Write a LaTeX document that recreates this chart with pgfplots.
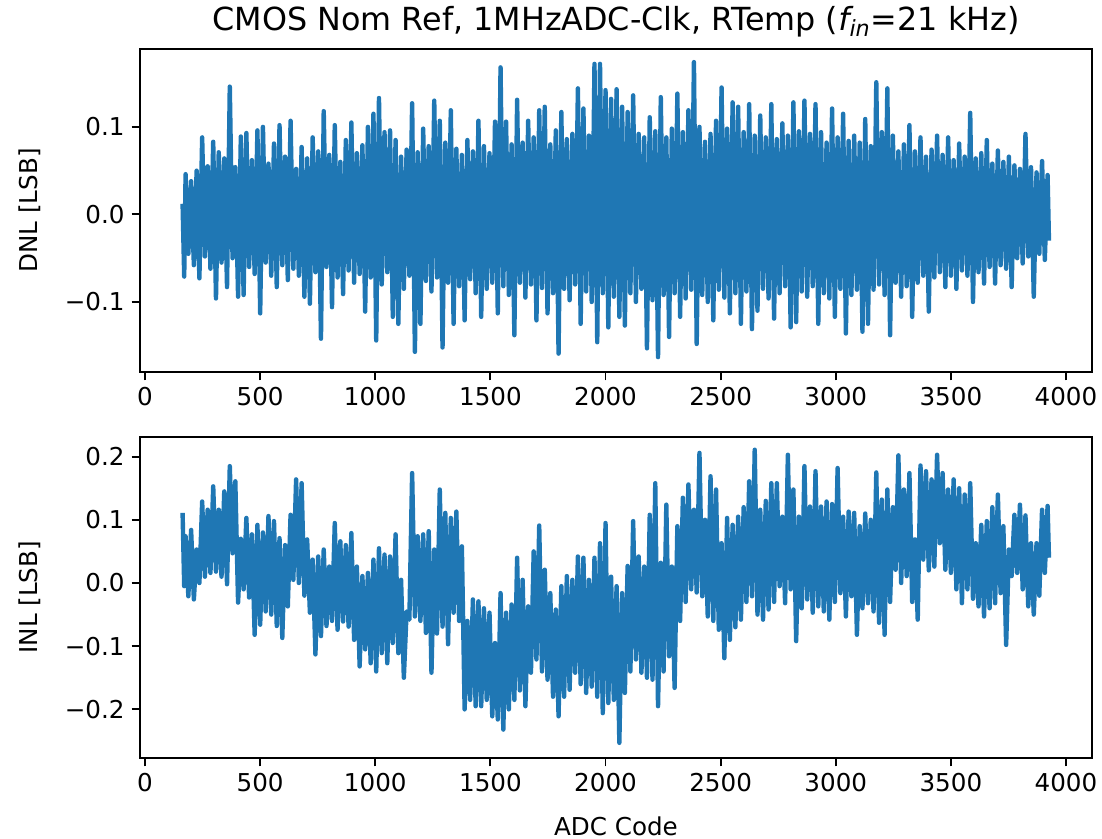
\documentclass[border=0pt]{standalone}
\usepackage{fontspec}
\setmainfont{DejaVu Sans}
\usepackage{pgfplots}
\pgfplotsset{compat=1.18}
\definecolor{mplblue}{HTML}{1F77B4}
\begin{document}
\begin{tikzpicture}
\path[use as bounding box] (0,0) rectangle (551pt,419.5pt);
\pgfplotsset{
  every axis/.append style={
    scale only axis, width=476pt,
    xmin=-22, xmax=4113,
    tick align=outside, xtick pos=bottom, ytick pos=left,
    major tick length=4.2pt,
    every tick/.style={black, line width=0.95pt},
    axis line style={line width=0.95pt},
    tick label style={font=\fontsize{12.3}{14}\selectfont},
    label style={font=\fontsize{12.3}{14}\selectfont},
    /pgf/number format/assume math mode=true,
    xtick={0,500,1000,1500,2000,2500,3000,3500,4000},
    xticklabels={0,500,1000,1500,2000,2500,3000,3500,4000},
    ylabel style={at={(axis description cs:-0.1155,0.5)}, anchor=center},
  },
  dnl/.style={mplblue, line width=2.2pt, line join=round, mark=none},
}
\begin{axis}[at={(70pt,395pt)}, anchor=north west, height=161.5pt,
  ymin=-0.180, ymax=0.189,
  ytick={-0.1,0,0.1}, yticklabels={−0.1,0.0,0.1},
  ylabel={DNL [LSB]},
  title={CMOS Nom Ref, 1MHzADC-Clk, RTemp ({\itshape f\textsubscript{in}}=21 kHz)},
  title style={font=\fontsize{15.9}{18}\selectfont, at={(axis description cs:0.5,1)}, anchor=base, yshift=3pt},
]
\addplot[dnl] coordinates {
(163,0.012)(170,-0.071)(176,0.046)(188,-0.045)(200,0.038)(212,-0.058)(224,0.050)(236,-0.073)(248,0.088)(260,-0.048)(272,0.055)(284,-0.062)(296,0.083)(308,-0.096)(320,0.071)(332,-0.055)(344,0.064)(356,-0.083)(368,0.146)(380,-0.050)(392,0.054)(404,-0.094)(416,0.089)(428,-0.092)(440,0.093)(452,-0.060)(464,0.062)(476,-0.068)(488,0.096)(500,-0.113)(512,0.100)(524,-0.055)(536,0.058)(548,-0.070)(560,0.081)(572,-0.083)(584,0.102)(596,-0.058)(608,0.066)(620,-0.075)(632,0.107)(644,-0.062)(656,0.052)(668,-0.070)(680,0.077)(692,-0.094)(704,0.064)(716,-0.102)(728,0.088)(740,-0.066)(752,0.072)(764,-0.142)(776,0.118)(788,-0.060)(800,0.068)(812,-0.106)(824,0.102)(836,-0.072)(848,0.060)(860,-0.091)(872,0.085)(884,-0.064)(896,0.105)(908,-0.078)(920,0.070)(932,-0.068)(944,0.079)(956,-0.111)(968,0.100)(980,-0.072)(992,0.115)(1004,-0.144)(1016,0.133)(1028,-0.080)(1040,0.094)(1052,-0.066)(1064,0.096)(1076,-0.117)(1088,0.085)(1100,-0.125)(1112,0.066)(1124,-0.085)(1136,0.074)(1148,-0.070)(1160,0.127)(1172,-0.157)(1184,0.071)(1196,-0.125)(1208,0.098)(1220,-0.076)(1232,0.078)(1244,-0.088)(1256,0.130)(1268,-0.072)(1280,0.107)(1292,-0.152)(1304,0.082)(1316,-0.078)(1328,0.119)(1340,-0.125)(1352,0.075)(1364,-0.082)(1376,0.068)(1388,-0.121)(1400,0.085)(1412,-0.074)(1424,0.072)(1436,-0.090)(1448,0.107)(1460,-0.117)(1472,0.078)(1484,-0.085)(1496,0.070)(1508,-0.078)(1520,0.106)(1532,-0.113)(1544,0.168)(1556,-0.082)(1568,0.106)(1580,-0.092)(1592,0.080)(1604,-0.138)(1616,0.131)(1628,-0.078)(1640,0.082)(1652,-0.095)(1664,0.107)(1676,-0.080)(1688,0.088)(1700,-0.121)(1712,0.119)(1724,-0.084)(1736,0.123)(1748,-0.113)(1760,0.080)(1772,-0.090)(1784,0.096)(1796,-0.159)(1808,0.117)(1820,-0.085)(1832,0.086)(1844,-0.098)(1856,0.092)(1868,-0.080)(1880,0.144)(1892,-0.125)(1904,0.121)(1916,-0.088)(1928,0.090)(1940,-0.100)(1952,0.172)(1964,-0.146)(1976,0.172)(1988,-0.090)(2000,0.142)(2012,-0.129)(2024,0.132)(2036,-0.094)(2048,0.143)(2060,-0.117)(2072,0.123)(2084,-0.127)(2096,0.117)(2108,-0.090)(2120,0.136)(2132,-0.100)(2144,0.092)(2156,-0.085)(2168,0.088)(2180,-0.153)(2192,0.111)(2204,-0.098)(2216,0.095)(2228,-0.163)(2240,0.134)(2252,-0.092)(2264,0.088)(2276,-0.140)(2288,0.098)(2300,-0.090)(2312,0.138)(2324,-0.117)(2336,0.094)(2348,-0.096)(2360,0.119)(2372,-0.086)(2384,0.174)(2396,-0.148)(2408,0.100)(2420,-0.092)(2432,0.083)(2444,-0.100)(2456,0.092)(2468,-0.121)(2480,0.107)(2492,-0.086)(2504,0.145)(2516,-0.095)(2528,0.098)(2540,-0.113)(2552,0.128)(2564,-0.090)(2576,0.123)(2588,-0.125)(2600,0.094)(2612,-0.088)(2624,0.126)(2636,-0.131)(2648,0.090)(2660,-0.110)(2672,0.113)(2684,-0.085)(2696,0.088)(2708,-0.096)(2720,0.126)(2732,-0.119)(2744,0.086)(2756,-0.090)(2768,0.104)(2780,-0.082)(2792,0.090)(2804,-0.129)(2816,0.128)(2828,-0.123)(2840,0.095)(2852,-0.088)(2864,0.130)(2876,-0.094)(2888,0.092)(2900,-0.082)(2912,0.126)(2924,-0.125)(2936,0.094)(2948,-0.090)(2960,0.082)(2972,-0.096)(2984,0.121)(2996,-0.117)(3008,0.088)(3020,-0.085)(3032,0.115)(3044,-0.136)(3056,0.084)(3068,-0.092)(3080,0.090)(3092,-0.086)(3104,0.082)(3116,-0.134)(3128,0.109)(3140,-0.125)(3152,0.078)(3164,-0.086)(3176,0.151)(3188,-0.080)(3200,0.094)(3212,-0.092)(3224,0.144)(3236,-0.138)(3248,0.090)(3260,-0.078)(3272,0.072)(3284,-0.094)(3296,0.080)(3308,-0.082)(3320,0.102)(3332,-0.117)(3344,0.072)(3356,-0.078)(3368,0.088)(3380,-0.070)(3392,0.066)(3404,-0.111)(3416,0.074)(3428,-0.072)(3440,0.090)(3452,-0.066)(3464,0.068)(3476,-0.083)(3488,0.088)(3500,-0.070)(3512,0.062)(3524,-0.085)(3536,0.081)(3548,-0.064)(3560,0.066)(3572,-0.070)(3584,0.116)(3596,-0.100)(3608,0.064)(3620,-0.066)(3632,0.070)(3644,-0.079)(3656,0.085)(3668,-0.060)(3680,0.058)(3692,-0.079)(3704,0.073)(3716,-0.058)(3728,0.060)(3740,-0.062)(3752,0.066)(3764,-0.083)(3776,0.056)(3788,-0.050)(3800,0.052)(3812,-0.056)(3824,0.092)(3836,-0.048)(3848,0.054)(3860,-0.094)(3872,0.048)(3884,-0.045)(3896,0.061)(3908,-0.052)(3920,0.045)(3926,-0.030)
};
\end{axis}
\begin{axis}[at={(70pt,201.15pt)}, anchor=north west, height=160.65pt,
  ymin=-0.277, ymax=0.2316,
  ytick={-0.2,-0.1,0,0.1,0.2}, yticklabels={−0.2,−0.1,0.0,0.1,0.2},
  ylabel={INL [LSB]},
  xlabel={ADC Code},
  xlabel style={at={(axis description cs:0.5,0)}, anchor=base, yshift=-38.5pt},
]
\addplot[dnl] coordinates {
(163,0.111)(170,-0.005)(176,0.074)(188,-0.021)(200,0.084)(212,-0.026)(224,0.053)(236,0.000)(248,0.129)(260,0.010)(272,0.116)(284,0.016)(296,0.153)(308,0.018)(320,0.116)(332,0.010)(344,0.145)(356,-0.002)(368,0.185)(380,0.047)(392,0.161)(404,-0.031)(416,0.070)(428,-0.010)(440,0.103)(452,-0.023)(464,0.077)(476,-0.082)(488,0.092)(500,-0.066)(512,0.080)(524,-0.045)(536,0.106)(548,-0.050)(560,0.098)(572,-0.068)(584,0.071)(596,-0.087)(608,0.060)(620,-0.037)(632,0.108)(644,0.005)(656,0.164)(668,0.000)(680,0.158)(692,-0.020)(704,0.069)(716,-0.047)(728,0.037)(740,-0.113)(752,0.042)(764,-0.084)(776,0.053)(788,-0.068)(800,0.026)(812,-0.060)(824,0.095)(836,-0.074)(848,0.066)(860,-0.061)(872,0.060)(884,-0.069)(896,0.079)(908,-0.090)(920,0.026)(932,-0.132)(944,0.011)(956,-0.105)(968,0.016)(980,-0.127)(992,0.037)(1004,-0.140)(1016,0.055)(1028,-0.111)(1040,0.045)(1052,-0.127)(1064,0.042)(1076,-0.095)(1088,0.077)(1100,-0.111)(1112,0.005)(1124,-0.150)(1136,-0.045)(1148,-0.058)(1160,0.174)(1172,-0.053)(1184,0.074)(1196,-0.060)(1208,0.077)(1220,-0.079)(1232,0.082)(1244,-0.142)(1256,0.053)(1268,-0.080)(1280,0.148)(1292,-0.069)(1304,0.111)(1316,-0.097)(1328,0.103)(1340,-0.047)(1352,0.113)(1364,-0.060)(1376,0.058)(1388,-0.200)(1400,-0.060)(1412,-0.185)(1424,-0.026)(1436,-0.195)(1448,-0.029)(1460,-0.195)(1472,-0.040)(1484,-0.185)(1496,-0.047)(1508,-0.211)(1520,-0.095)(1532,-0.216)(1544,-0.016)(1556,-0.232)(1568,-0.047)(1580,-0.200)(1592,-0.034)(1604,-0.185)(1616,0.040)(1628,-0.170)(1640,0.005)(1652,-0.195)(1664,-0.037)(1676,-0.142)(1688,0.050)(1700,-0.121)(1712,0.091)(1724,-0.140)(1736,0.021)(1748,-0.153)(1760,-0.016)(1772,-0.180)(1784,-0.042)(1796,-0.211)(1808,-0.005)(1820,-0.180)(1832,0.011)(1844,-0.169)(1856,0.005)(1868,-0.142)(1880,0.042)(1892,-0.160)(1904,0.040)(1916,-0.174)(1928,0.005)(1940,-0.164)(1952,0.040)(1964,-0.180)(1976,0.063)(1988,-0.206)(2000,0.095)(2012,-0.190)(2024,0.010)(2036,-0.185)(2048,-0.005)(2060,-0.253)(2072,-0.016)(2084,-0.174)(2096,0.027)(2108,-0.140)(2120,0.098)(2132,-0.121)(2144,0.042)(2156,-0.142)(2168,0.026)(2180,-0.150)(2192,0.108)(2204,-0.153)(2216,0.158)(2228,-0.195)(2240,0.032)(2252,-0.140)(2264,0.124)(2276,-0.116)(2288,0.026)(2300,-0.166)(2312,0.090)(2324,-0.060)(2336,0.135)(2348,-0.030)(2360,0.156)(2372,-0.010)(2384,0.116)(2396,-0.015)(2408,0.206)(2420,-0.021)(2432,0.100)(2444,-0.053)(2456,0.169)(2468,-0.060)(2480,0.148)(2492,-0.074)(2504,0.063)(2516,-0.119)(2528,0.103)(2540,-0.090)(2552,0.092)(2564,-0.070)(2576,0.105)(2588,-0.058)(2600,0.120)(2612,-0.030)(2624,0.161)(2636,-0.021)(2648,0.211)(2660,-0.050)(2672,0.116)(2684,-0.058)(2696,0.130)(2708,-0.042)(2720,0.158)(2732,-0.030)(2744,0.158)(2756,-0.005)(2768,0.105)(2780,-0.032)(2792,0.203)(2804,-0.010)(2816,0.148)(2828,-0.092)(2840,0.105)(2852,-0.040)(2864,0.185)(2876,-0.026)(2888,0.121)(2900,-0.047)(2912,0.177)(2924,-0.037)(2936,0.121)(2948,-0.045)(2960,0.129)(2972,-0.058)(2984,0.125)(2996,-0.030)(3008,0.182)(3020,-0.016)(3032,0.105)(3044,-0.053)(3056,0.113)(3068,-0.021)(3080,0.111)(3092,-0.082)(3104,0.090)(3116,-0.040)(3128,0.110)(3140,-0.032)(3152,0.100)(3164,-0.045)(3176,0.175)(3188,-0.063)(3200,0.132)(3212,-0.082)(3224,0.148)(3236,-0.030)(3248,0.120)(3260,0.021)(3272,0.202)(3284,0.000)(3296,0.148)(3308,0.011)(3320,0.174)(3332,-0.030)(3344,0.069)(3356,-0.058)(3368,0.186)(3380,0.037)(3392,0.177)(3404,0.020)(3416,0.164)(3428,0.026)(3440,0.203)(3452,0.063)(3464,0.174)(3476,0.021)(3488,0.148)(3500,0.016)(3512,0.164)(3524,-0.010)(3536,0.150)(3548,-0.032)(3560,0.140)(3572,-0.010)(3584,0.158)(3596,-0.025)(3608,0.063)(3620,-0.037)(3632,0.092)(3644,-0.053)(3656,0.098)(3668,-0.040)(3680,0.120)(3692,-0.032)(3704,0.140)(3716,-0.016)(3728,0.090)(3740,-0.098)(3752,0.053)(3764,0.011)(3776,0.108)(3788,0.016)(3800,0.124)(3812,-0.010)(3824,0.107)(3836,-0.037)(3848,0.063)(3860,-0.050)(3872,0.063)(3884,-0.020)(3896,0.116)(3908,0.016)(3920,0.122)(3926,0.040)
};
\end{axis}
\end{tikzpicture}
\end{document}
